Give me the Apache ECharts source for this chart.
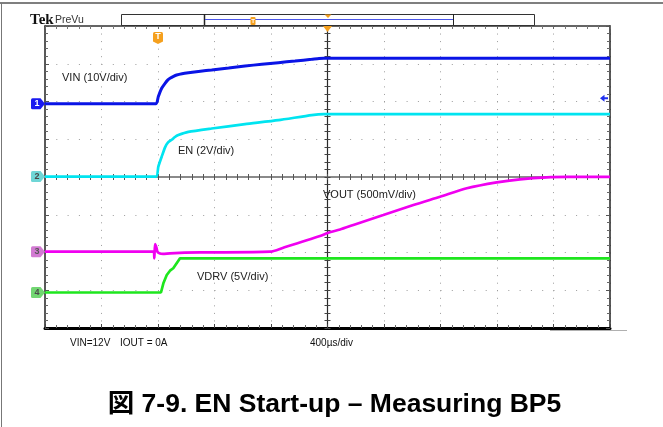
<!DOCTYPE html>
<html>
<head>
<meta charset="utf-8">
<script src="https://cdn.jsdelivr.net/npm/echarts@6/dist/echarts.min.js"></script>
<style>html,body{margin:0;padding:0;background:#fff}#c{width:663px;height:427px}</style>
</head>
<body>
<div id="c"></div>
<script>
// ---------------- data (time in µs relative to trigger, values in volts) ----------------
const usPerDiv = 400;
const timeMin = -800;
const timeMax = 3200;

const channelNames = ['VIN (10V/div)', 'EN (2V/div)', 'VOUT (500mV/div)', 'VDRV (5V/div)'];
const voltsPerDiv = [10, 2, 0.5, 5];

const vinTime  = [-800, -14, 2, 26, 50, 70, 85, 110, 132, 170, 215, 300, 380, 500, 616, 735, 852, 970, 1088, 1140, 1175, 1300, 3200];
const vinVolts = [0, 0, 1.85, 4.08, 5.4, 6.3, 6.73, 7.25, 7.6, 7.95, 8.21, 8.6, 8.93, 9.45, 9.99, 10.43, 10.86, 11.3, 11.76, 11.98, 12.05, 12.05, 12.05];

const enTime  = [-800, -14, 2, 26, 50, 70, 97, 120, 144, 215, 380, 616, 852, 1088, 1175, 3200];
const enVolts = [0, 0, 0.52, 1.05, 1.55, 1.8, 1.95, 2.1, 2.2, 2.37, 2.55, 2.78, 2.99, 3.26, 3.31, 3.31];

const voutTime  = [-800, -30, -26, -21, -12, -4, 14, 35, 85, 297, 793, 887, 1147, 1206, 1289, 1383, 1595, 1808, 1997, 2186, 2398, 2563, 2752, 2900, 3200];
const voutVolts = [0, 0, -0.087, 0.102, 0.06, 0.0, -0.025, -0.03, -0.021, -0.01, 0, 0.053, 0.208, 0.252, 0.294, 0.354, 0.486, 0.619, 0.728, 0.84, 0.919, 0.959, 0.985, 0.99, 0.99];

const vdrvTime  = [-800, 21, 38, 62, 85, 108, 132, 156, 3200];
const vdrvVolts = [0, 0, 1.22, 2.32, 2.89, 3.21, 3.87, 4.53, 4.53];

const ch1TriggerLevel = 1.43; // volts

// ---------------- screen layout / style ----------------
const groundDiv = [1.942, 0.01, -1.979, -3.06]; // ground marker offset from centre, in divisions
const traceColors = ['#0a14e6', '#00e4f0', '#f000f0', '#1ee61e'];
const traceSmooth = [0.2, 0.2, 0.25, 0];
const tagFill = ['#1a1af0', '#6fd6d6', '#d27ad2', '#72d672'];
const tagText = ['#ffffff', '#4a4a4a', '#555555', '#4a4a4a'];
const orange = '#f5a01e';

function pairs(t, v) { return t.map((x, i) => [x, v[i]]); }
const seriesData = [pairs(vinTime, vinVolts), pairs(enTime, enVolts), pairs(voutTime, voutVolts), pairs(vdrvTime, vdrvVolts)];

const chAxisMin = voltsPerDiv.map((vd, i) => (-4 - groundDiv[i]) * vd);
const chAxisMax = voltsPerDiv.map((vd, i) => (4 - groundDiv[i]) * vd);

const dotColor = '#9c9c9c';
const tagPath = 'path://M1.5,0 L9.5,0 L14,5.5 L9.5,11 L1.5,11 Q0,11 0,9.5 L0,1.5 Q0,0 1.5,0 Z';
const trigPath = 'path://M1.5,0 L8.5,0 Q10,0 10,1.5 L10,9.5 L5,12 L0,9.5 L0,1.5 Q0,0 1.5,0 Z';
const leftArrowPath = 'path://M0,3.5 L4.5,0 L4.5,2.5 L8,2.5 L8,4.5 L4.5,4.5 L4.5,7 Z';

const xAxes = [
  { // bottom border + dotted vertical division lines
    type: 'value', min: timeMin, max: timeMax, interval: usPerDiv, position: 'bottom',
    axisLine: { show: true, onZero: false, lineStyle: { color: '#000', width: 3 } },
    axisTick: { show: true, inside: true, length: 4, lineStyle: { color: '#444' } },
    minorTick: { show: true, splitNumber: 5, length: 3, lineStyle: { color: '#666' } },
    axisLabel: { show: false },
    splitLine: { show: true, lineStyle: { color: dotColor, width: 1, type: [1, 6.55] } }
  },
  { // top border
    type: 'value', min: timeMin, max: timeMax, interval: usPerDiv, position: 'top',
    axisLine: { show: true, onZero: false, lineStyle: { color: '#333', width: 1.5 } },
    axisTick: { show: true, inside: true, length: 3, lineStyle: { color: '#666' } },
    minorTick: { show: true, splitNumber: 5, length: 3, lineStyle: { color: '#777' } },
    axisLabel: { show: false }, splitLine: { show: false }
  },
  { // horizontal centre line, ticks up
    type: 'value', min: timeMin, max: timeMax, interval: usPerDiv, position: 'bottom',
    axisLine: { show: true, onZero: true, onZeroAxisIndex: 0, lineStyle: { color: '#8a8a8a', width: 2 } },
    axisTick: { show: true, inside: true, length: 3, lineStyle: { color: '#555' } },
    minorTick: { show: true, splitNumber: 5, length: 3, lineStyle: { color: '#555' } },
    axisLabel: { show: false }, splitLine: { show: false }
  },
  { // horizontal centre line, ticks down
    type: 'value', min: timeMin, max: timeMax, interval: usPerDiv, position: 'bottom',
    axisLine: { show: false, onZero: true, onZeroAxisIndex: 0 },
    axisTick: { show: true, inside: false, length: 3, lineStyle: { color: '#555' } },
    minorTick: { show: true, splitNumber: 5, length: 3, lineStyle: { color: '#555' } },
    axisLabel: { show: false }, splitLine: { show: false }
  },
  { // helper: divisions, for the vertical centre line
    type: 'value', min: -5, max: 5, show: false, axisLine: { onZero: false }
  }
];

const yAxes = [
  { // left border + dotted horizontal division lines
    type: 'value', min: -4, max: 4, interval: 1, position: 'left',
    axisLine: { show: true, onZero: false, lineStyle: { color: '#222', width: 1.5 } },
    axisTick: { show: true, inside: true, length: 4, lineStyle: { color: '#555' } },
    minorTick: { show: true, splitNumber: 5, length: 3, lineStyle: { color: '#666' } },
    axisLabel: { show: false },
    splitLine: { show: true, lineStyle: { color: dotColor, width: 1, type: [1, 10.3] } }
  },
  { // right border
    type: 'value', min: -4, max: 4, interval: 1, position: 'right',
    axisLine: { show: true, onZero: false, lineStyle: { color: '#222', width: 1.5 } },
    axisTick: { show: true, inside: true, length: 4, lineStyle: { color: '#555' } },
    minorTick: { show: true, splitNumber: 5, length: 3, lineStyle: { color: '#666' } },
    axisLabel: { show: false }, splitLine: { show: false }
  },
  { // vertical centre line, ticks right
    type: 'value', min: -4, max: 4, interval: 1, position: 'left',
    axisLine: { show: true, onZero: true, onZeroAxisIndex: 4, lineStyle: { color: '#2a2a2a', width: 1.2 } },
    axisTick: { show: true, inside: true, length: 3, lineStyle: { color: '#444' } },
    minorTick: { show: true, splitNumber: 5, length: 3, lineStyle: { color: '#444' } },
    axisLabel: { show: false }, splitLine: { show: false }
  },
  { // vertical centre line, ticks left
    type: 'value', min: -4, max: 4, interval: 1, position: 'left',
    axisLine: { show: false, onZero: true, onZeroAxisIndex: 4 },
    axisTick: { show: true, inside: false, length: 3, lineStyle: { color: '#444' } },
    minorTick: { show: true, splitNumber: 5, length: 3, lineStyle: { color: '#444' } },
    axisLabel: { show: false }, splitLine: { show: false }
  }
];
// one hidden axis per channel: volts, with the channel's ground at its marker
voltsPerDiv.forEach((vd, i) => {
  yAxes.push({ type: 'value', min: chAxisMin[i], max: chAxisMax[i], show: false, axisLine: { onZero: false } });
});

const series = seriesData.map((d, i) => {
  const mpData = [{
    coord: [timeMin, 0], symbol: tagPath, symbolSize: [14, 11], symbolOffset: [-7, 0],
    itemStyle: { color: tagFill[i] },
    label: { show: true, formatter: String(i + 1), color: tagText[i], fontSize: 9, fontWeight: 'bold', fontFamily: 'Liberation Sans', offset: [-1, 0] }
  }];
  if (i === 0) {
    mpData.push({
      coord: [timeMax, ch1TriggerLevel], symbol: leftArrowPath, symbolSize: [8, 7], symbolOffset: [-6, 0],
      itemStyle: { color: '#2030f0' }, label: { show: false }
    });
    mpData.push({
      coord: [0, chAxisMax[0]], symbol: trigPath, symbolSize: [10, 12], symbolOffset: [0, 12],
      itemStyle: { color: orange },
      label: { show: true, formatter: 'T', color: '#fff', fontSize: 9, fontWeight: 'bold', fontFamily: 'Liberation Sans', offset: [0, -1] }
    });
    mpData.push({
      coord: [(timeMin + timeMax) / 2, chAxisMax[0]], symbol: 'triangle', symbolRotate: 180, symbolSize: [9, 6], symbolOffset: [0, 3],
      itemStyle: { color: orange }, label: { show: false }
    });
  }
  return {
    type: 'line', name: channelNames[i], xAxisIndex: 0, yAxisIndex: 4 + i,
    data: d, showSymbol: false, symbol: 'none', z: 5 + (3 - i),
    smooth: traceSmooth[i],
    lineStyle: { color: traceColors[i], width: i === 0 ? 3 : 2.7 },
    markPoint: { data: mpData, animation: false, z: 10 }
  };
});

const txtFont = 'Liberation Sans, Arial, sans-serif';
const graphic = [
  // page frame
  { type: 'line', shape: { x1: 0, y1: 3, x2: 663, y2: 3 }, style: { stroke: '#555', lineWidth: 1.5 }, silent: true },
  { type: 'line', shape: { x1: 1.5, y1: 3, x2: 1.5, y2: 427 }, style: { stroke: '#777', lineWidth: 1 }, silent: true },
  // Tek PreVu
  { type: 'text', x: 30, y: 20, style: { text: 'Tek', font: 'bold 15px "Liberation Serif", serif', fill: '#111', textVerticalAlign: 'middle' } },
  { type: 'text', x: 55, y: 20, style: { text: 'PreVu', font: '10.5px ' + txtFont, fill: '#333', textVerticalAlign: 'middle' } },
  // record bar
  { type: 'rect', shape: { x: 121.5, y: 14.5, width: 413, height: 11 }, style: { fill: '#fff', stroke: '#333', lineWidth: 1 } },
  { type: 'line', shape: { x1: 204.5, y1: 14, x2: 204.5, y2: 26 }, style: { stroke: '#222', lineWidth: 1.5 } },
  { type: 'line', shape: { x1: 453.5, y1: 14, x2: 453.5, y2: 26 }, style: { stroke: '#222', lineWidth: 1 } },
  { type: 'line', shape: { x1: 205, y1: 19.5, x2: 453, y2: 19.5 }, style: { stroke: '#4a55e8', lineWidth: 1 } },
  { type: 'polygon', shape: { points: [[324.5, 14.5], [331.5, 14.5], [328, 18]] }, style: { fill: orange } },
  { type: 'rect', shape: { x: 250.5, y: 17, width: 5, height: 8, r: 1 }, style: { fill: orange } },
  { type: 'text', x: 253, y: 21, style: { text: 'T', font: 'bold 6px ' + txtFont, fill: '#fff', textAlign: 'center', textVerticalAlign: 'middle' } },
  // gray extension under bottom border
  { type: 'line', shape: { x1: 550, y1: 330.5, x2: 627, y2: 330.5 }, style: { stroke: '#b0b0b0', lineWidth: 1 } },
  // channel annotations
  { type: 'text', x: 62, y: 78, style: { text: channelNames[0], font: '11px ' + txtFont, fill: '#222', textVerticalAlign: 'middle' } },
  { type: 'text', x: 178, y: 151, style: { text: channelNames[1], font: '11px ' + txtFont, fill: '#222', textVerticalAlign: 'middle' } },
  { type: 'text', x: 323, y: 195, style: { text: channelNames[2], font: '11px ' + txtFont, fill: '#222', textVerticalAlign: 'middle' } },
  { type: 'text', x: 197, y: 277, style: { text: channelNames[3], font: '11px ' + txtFont, fill: '#222', textVerticalAlign: 'middle' } },
  // bottom notes
  { type: 'text', x: 70, y: 343, style: { text: 'VIN=12V', font: '10px ' + txtFont, fill: '#111', textVerticalAlign: 'middle' } },
  { type: 'text', x: 120, y: 343, style: { text: 'IOUT = 0A', font: '10px ' + txtFont, fill: '#111', textVerticalAlign: 'middle' } },
  { type: 'text', x: 310, y: 343, style: { text: '400µs/div', font: '10px ' + txtFont, fill: '#111', textVerticalAlign: 'middle' } },
  // caption
  { type: 'text', x: 334.5, y: 405, style: { text: '図 7-9. EN Start-up – Measuring BP5', font: 'bold 26.5px "Liberation Sans", "Noto Sans CJK JP", sans-serif', fill: '#000', textAlign: 'center', textVerticalAlign: 'middle' } }
];

const chart = echarts.init(document.getElementById('c'), null, { renderer: 'canvas' });
chart.setOption({
  animation: false,
  backgroundColor: '#ffffff',
  grid: { left: 45, top: 26, width: 565, height: 302, containLabel: false },
  xAxis: xAxes,
  yAxis: yAxes,
  series: series,
  graphic: graphic
});
</script>
</body>
</html>
